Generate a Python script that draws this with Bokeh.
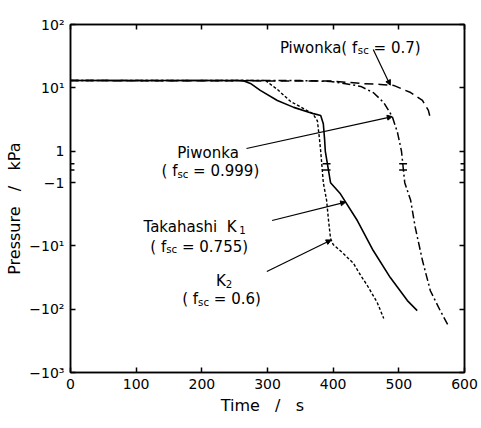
import numpy as np
from bokeh.plotting import figure
from bokeh.models import (Range1d, FixedTicker, LinearAxis, Arrow, NormalHead,
                          CustomJSTickFormatter)
from bokeh.embed import file_html
from bokeh.resources import INLINE
from bokeh.core.properties import value

# ---------------- data (time in s, pressure in kPa) ----------------
time_k1 = [0, 262, 274, 289, 315, 340, 370, 381, 385, 387, 388, 396, 411, 437, 461, 487, 513, 528]
pres_k1 = [13, 13, 11.7, 9.1, 6.3, 4.9, 3.9, 3.65, 2.7, 1.5, 1.0, -1.0, -1.5, -4.0, -11.8, -31.6, -73, -105]

time_k2 = [0, 297, 315, 335, 358, 369, 376, 379, 381, 385, 390, 393, 396, 400, 414, 431, 442, 452, 467, 477]
pres_k2 = [13, 13, 9.4, 6.1, 4.5, 3.9, 3.0, 1.6, 1.0, -1.0, -1.9, -4.0, -7.6, -9.5, -12.7, -18.9, -29.3, -42.2, -78, -140]

time_p999 = [0, 350, 396, 426, 442, 461, 477, 490, 498, 504, 509, 518, 525, 536, 548, 563, 576]
pres_p999 = [13, 13, 12.6, 11.3, 10.5, 8.4, 5.85, 3.5, 1.96, 1.0, -1.0, -1.9, -5.1, -17, -51, -105, -187]

time_p07 = [0, 396, 442, 472, 492, 518, 536, 545, 548]
pres_p07 = [13, 12.8, 11.7, 11.3, 10.9, 8.4, 6.3, 4.4, 3.3]

x_ticks = [0, 100, 200, 300, 400, 500, 600]
y_tick_values = [100, 10, 1, -1, -10, -100, -1000]
y_tick_labels = ["10²", "10¹", "1", "−1", "−10¹", "−10²", "−10³"]

# ---------------- broken symmetric-log scale ----------------
GAP = 0.5
def sym(v):
    v = np.asarray(v, dtype=float)
    a = np.log10(np.abs(v))
    return np.where(v > 0, a, -GAP - a)

FONT = "DejaVu Sans"
NB = "\u00a0"

p = figure(width=481, height=428, output_backend="svg", toolbar_location=None,
           x_range=Range1d(0, 600), y_range=Range1d(-3.5, 2),
           min_border_left=70, min_border_right=17, min_border_top=24, min_border_bottom=56)
p.background_fill_color = "white"
p.border_fill_color = "white"
p.grid.visible = False
p.outline_line_color = "black"
p.outline_line_width = 1.5

yt = [round(float(c), 6) for c in sym(y_tick_values)]

def style_axis(ax):
    ax.axis_line_width = 1.5
    ax.axis_line_color = "black"
    ax.major_tick_in = 5
    ax.major_tick_out = 0
    ax.major_tick_line_width = 1.5
    ax.minor_tick_line_color = None
    ax.major_label_text_font = FONT
    ax.major_label_text_font_size = "14px"
    ax.major_label_text_color = "black"
    ax.axis_label_text_font = FONT
    ax.axis_label_text_font_style = "normal"
    ax.axis_label_text_font_size = "16px"
    ax.axis_label_text_color = "black"

xa = p.xaxis[0]
xa.ticker = FixedTicker(ticks=x_ticks)
xa.axis_label = f"Time{NB}{NB}{NB}/{NB}{NB}{NB}s{NB}{NB}"
style_axis(xa)
xa.major_label_standoff = 6
xa.axis_label_standoff = 4

ya = p.yaxis[0]
ya.ticker = FixedTicker(ticks=yt)
ya.major_label_overrides = {c: lab for c, lab in zip(yt, y_tick_labels)}
ya.axis_label = f"Pressure{NB}{NB}{NB}/{NB}{NB}{NB}kPa{NB}{NB}{NB}{NB}"
style_axis(ya)
ya.major_label_standoff = 6
ya.axis_label_standoff = 2

blank = CustomJSTickFormatter(code="return ''")
top = LinearAxis(ticker=FixedTicker(ticks=x_ticks), formatter=blank)
style_axis(top)
top.major_label_standoff = 0
p.add_layout(top, "above")
right = LinearAxis(ticker=FixedTicker(ticks=yt), formatter=blank)
style_axis(right)
right.major_label_standoff = 0
p.add_layout(right, "right")

# ---------------- curves ----------------
p.line(time_p07, sym(pres_p07), line_color="black", line_width=1.5, line_dash="9 5")
p.line(time_p999, sym(pres_p999), line_color="black", line_width=1.5, line_dash="8 3 2 3")
p.line(time_k2, sym(pres_k2), line_color="black", line_width=1.4, line_dash="3 2")
p.line(time_k1, sym(pres_k1), line_color="black", line_width=1.6)

# ---------------- axis-break marks ----------------
def crossing(ts, ps):
    ps = np.asarray(ps)
    i = int(np.where((ps[:-1] > 0) & (ps[1:] < 0))[0][0])
    return 0.5 * (ts[i] + ts[i + 1])

break_t = [0, crossing(time_k1, pres_k1) - 2, crossing(time_p999, pres_p999), 600]
for c in (-0.2, -0.3):
    p.segment(x0=[b - 6 for b in break_t], x1=[b + 6 for b in break_t],
              y0=[c] * len(break_t), y1=[c] * len(break_t),
              line_color="black", line_width=1.4)

# ---------------- labels ----------------
W = {' ': 0.318, NB: 0.318, '(': 0.390, ')': 0.390, 'f': 0.352, 's': 0.521, 'c': 0.550,
     '=': 0.838, '.': 0.318, 'P': 0.603, 'i': 0.278, 'w': 0.818, 'o': 0.612, 'n': 0.634,
     'k': 0.579, 'a': 0.613, 'T': 0.611, 'h': 0.634, 'K': 0.656}
def tw(s, size):
    return sum(W.get(ch, 0.636) for ch in s) * size

SUB = 0.68
def add_label(t, c, runs, size=15):
    runs = [(txt.replace(" ", NB), sub) for txt, sub in runs]
    widths = [tw(txt, size * (SUB if sub else 1.0)) for txt, sub in runs]
    off = -sum(widths) / 2
    for (txt, sub), w in zip(runs, widths):
        fs = size * (SUB if sub else 1.0)
        p.text(x=[t], y=[c], text=[txt], x_offset=off, y_offset=(3 if sub else 0),
               text_font=value(FONT), text_font_size=f"{fs:.1f}px",
               text_align="left", text_baseline="alphabetic", text_color="black")
        off += w

add_label(426, 1.636, [("Piwonka( f", False), ("sc", True), (" = 0.7)", False)])
add_label(210, -0.023, [("Piwonka", False)])
add_label(213, -0.323, [("( f", False), ("sc", True), (" = 0.999)", False)])
add_label(189, -1.208, [("Takahashi  K", False), ("1", True)])
add_label(196, -1.509, [("( f", False), ("sc", True), (" = 0.755)", False)])
add_label(234, -2.046, [("K", False), ("2", True)])
add_label(230, -2.346, [("( f", False), ("sc", True), (" = 0.6)", False)])

# leader lines
def on_curve(t, ts, ps):
    return float(np.interp(t, ts, sym(ps)))

leaders = [
    (268, 0.040, 490, time_p999, pres_p999),
    (461, 1.605, 487, time_p07, pres_p07),
    (307, -1.098, 419, time_k1, pres_k1),
    (299, -1.904, 397, time_k2, pres_k2),
]
for xs, ys, xe, ts, ps in leaders:
    p.add_layout(Arrow(x_start=xs, y_start=ys, x_end=xe, y_end=on_curve(xe, ts, ps),
                       line_color="black", line_width=1.2,
                       end=NormalHead(size=5, fill_color="black", line_color="black")))

open("out.html", "w").write(file_html(p, INLINE))
